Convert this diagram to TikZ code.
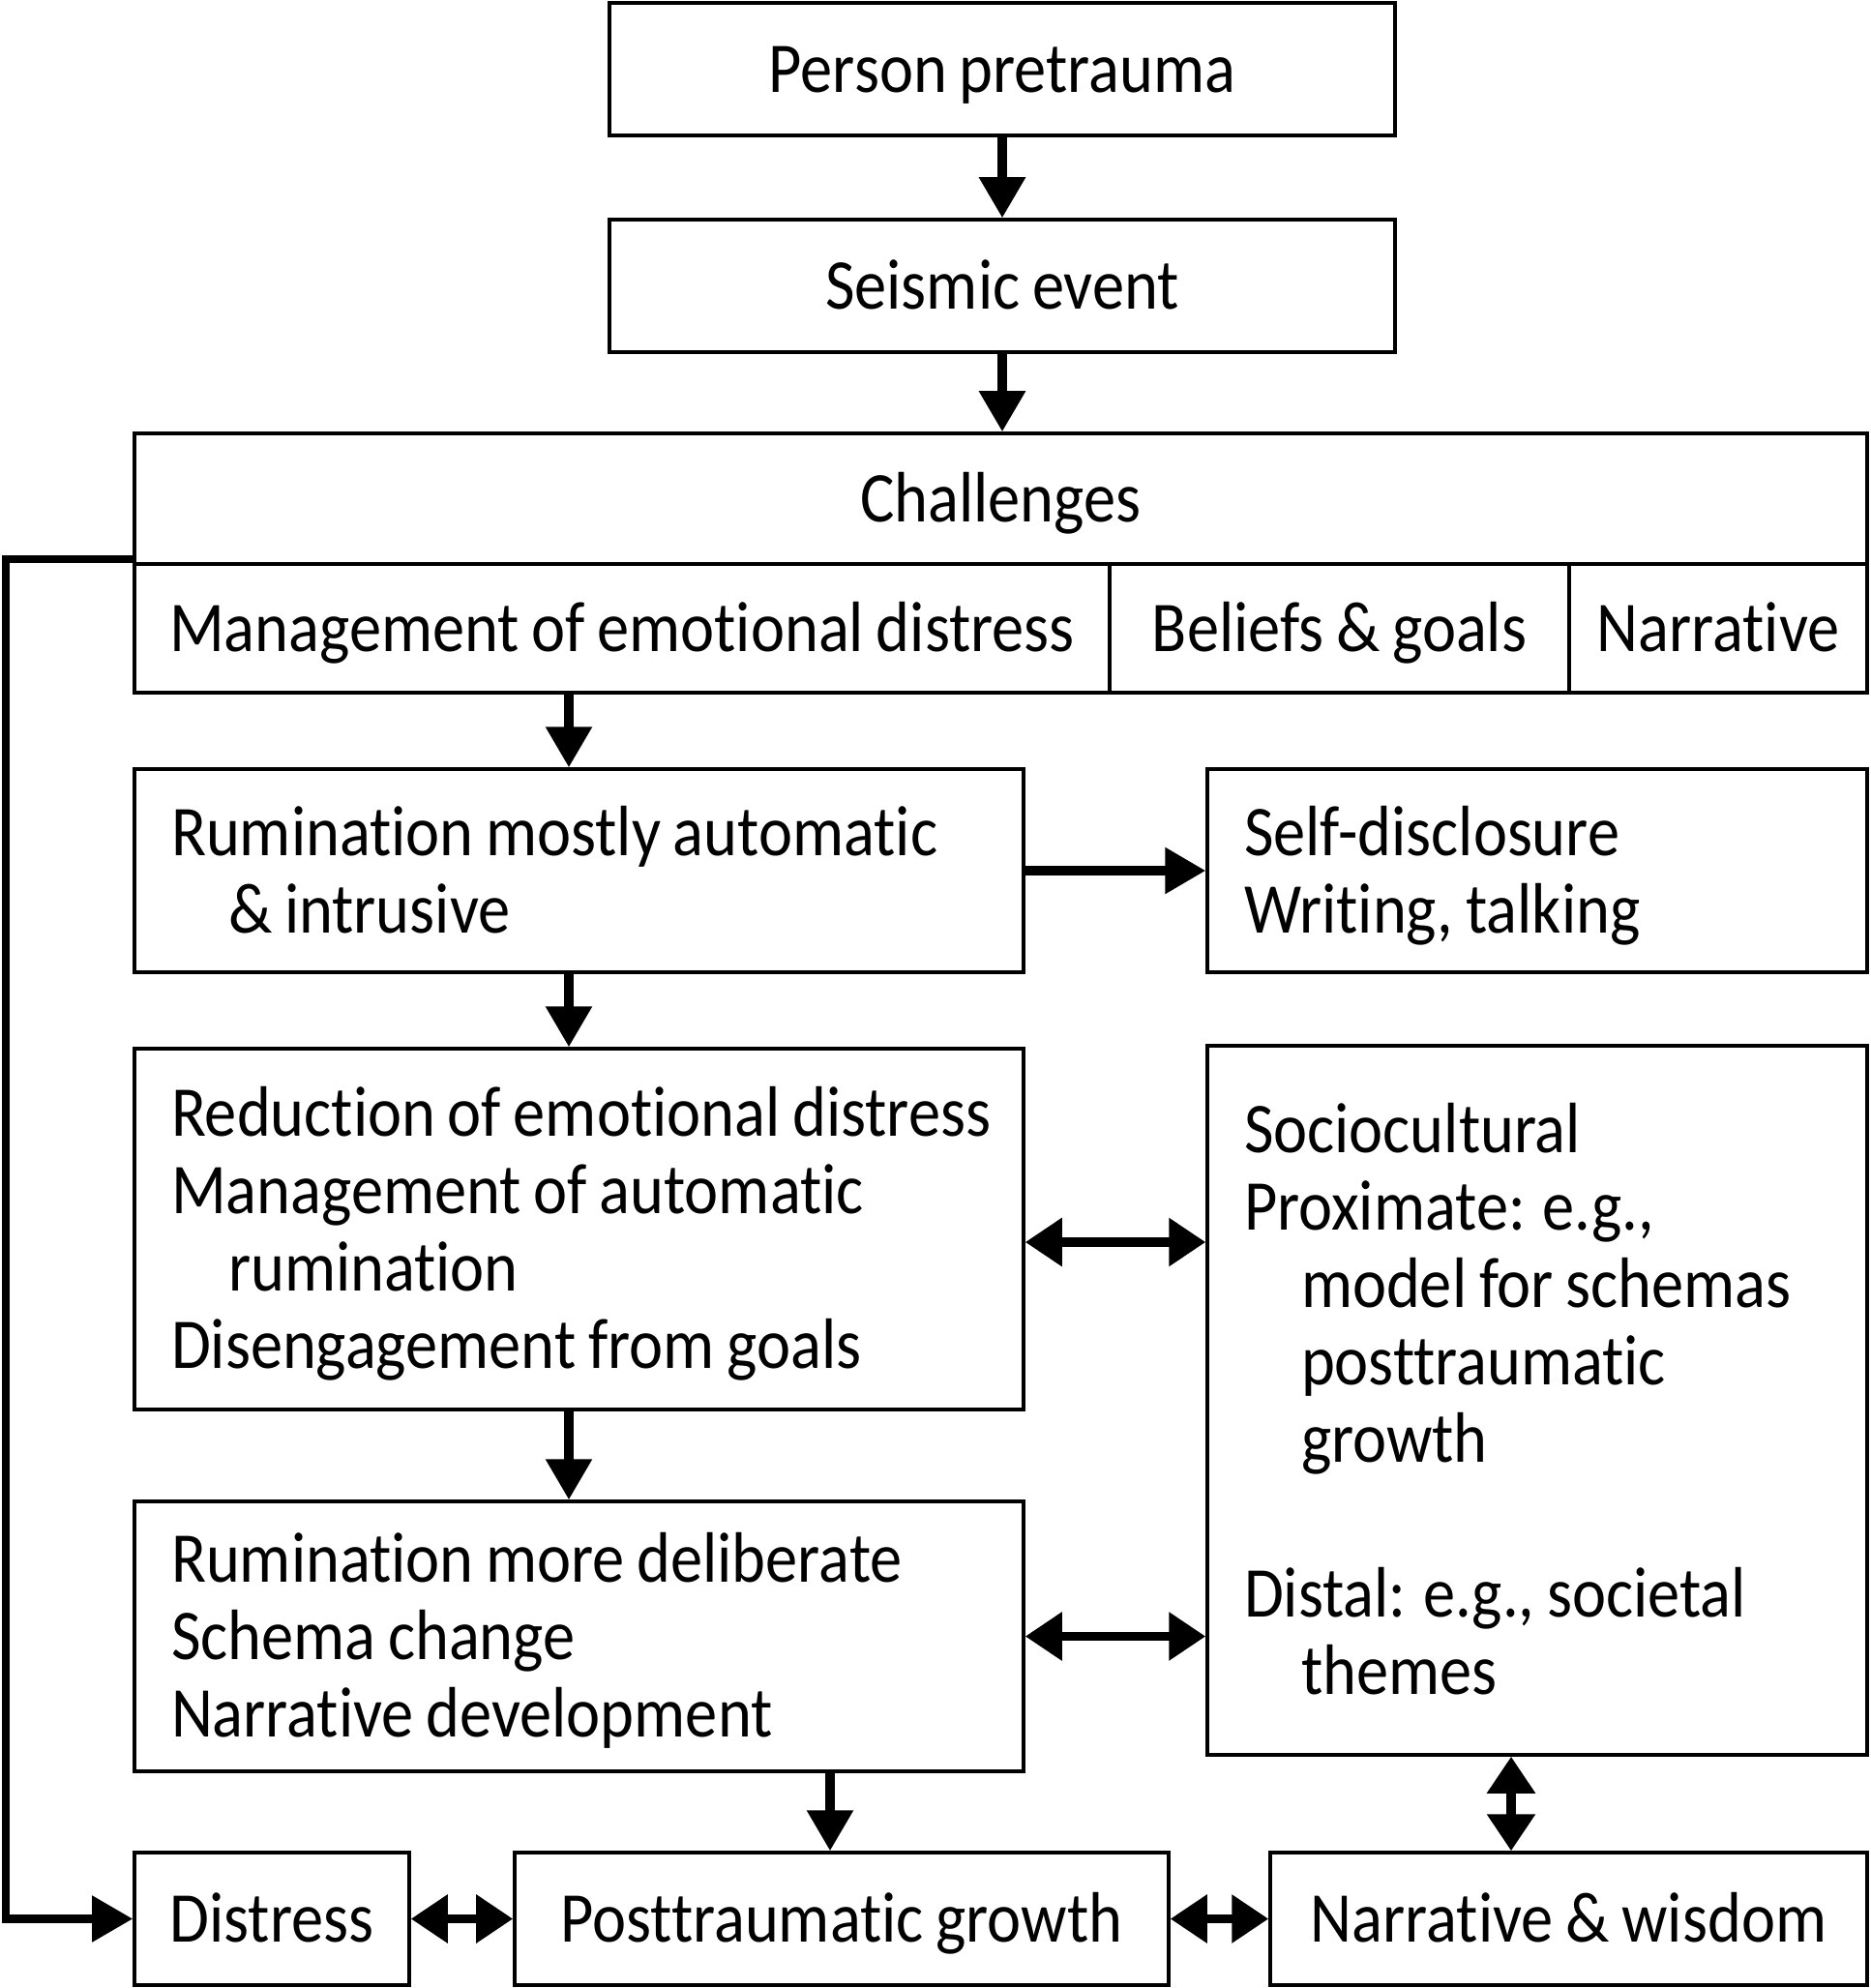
\documentclass[tikz,border=0pt]{standalone}
\usepackage{fontspec}
\setmainfont{Carlito}[FakeStretch=0.9, WordSpace=0.85, Ligatures=NoCommon]
\usepackage{tikz}
\usetikzlibrary{arrows.meta,positioning,calc}
\newcommand{\figfont}{\fontsize{21pt}{22.76pt}\selectfont}
\newcommand{\ind}{\hspace*{0.59cm}}
% left-aligned block of lines, fixed width
\newcommand{\lblock}[2]{\raisebox{0pt}[\dimexpr\height+0.16cm\relax][\depth]{\makebox[#1][l]{\begin{tabular}{@{}l@{}}#2\end{tabular}}}}

\tikzset{
    box/.style={draw, line width=1pt, inner sep=0pt, font=\figfont},
    cell/.style={box, text height=13.5pt, text depth=0pt},
    lbox/.style={box, inner xsep=0.38cm},
    flow/.style={-{Triangle[length=0.42cm, width=0.46cm]}, line width=2.6pt},
    both/.style={{Triangle[length=0.38cm, width=0.48cm]}-{Triangle[length=0.38cm, width=0.48cm]}, line width=2.6pt},
}

\begin{document}
\begin{tikzpicture}
    \useasboundingbox (0,0) rectangle (19.33,-20.55);

    % Top chain
    \node[cell, minimum width=8.12cm, minimum height=1.37cm] (pre) at (10.36,-0.715) {Person pretrauma};
    \node[cell, minimum width=8.12cm, minimum height=1.37cm] (seis) at (10.36,-2.955) {Seismic event};

    % Challenges block
    \node[cell, minimum width=17.91cm, minimum height=1.35cm] (chal) at (10.345,-5.155) {Challenges};
    \node[cell, minimum width=10.08cm, minimum height=1.33cm] (mgmt) at (6.43,-6.495) {Management of emotional distress};
    \node[cell, minimum width=4.75cm, minimum height=1.33cm] (beliefs) at (13.845,-6.495) {Beliefs \& goals};
    \node[cell, minimum width=3.08cm, minimum height=1.33cm] (narr) at (17.76,-6.495) {Narrative};

    % Left column
    \node[lbox, minimum height=2.10cm] (rum1) at (5.985,-9.00)
        {\lblock{8.43cm}{Rumination mostly automatic\\\ind\& intrusive}};
    \node[lbox, minimum height=3.73cm] (red) at (5.985,-12.705)
        {\lblock{8.43cm}{Reduction of emotional distress\\Management of automatic\\\ind rumination\\Disengagement from goals}};
    \node[lbox, minimum height=2.79cm] (rum2) at (5.985,-16.915)
        {\lblock{8.43cm}{Rumination more deliberate\\Schema change\\Narrative development}};

    % Right column
    \node[lbox, minimum height=2.10cm] (self) at (15.89,-9.00)
        {\lblock{6.06cm}{Self-disclosure\\Writing, talking}};
    \node[lbox, minimum height=7.33cm] (soc) at (15.89,-14.475)
        {\lblock{6.06cm}{Sociocultural\\Proximate: e.g.,\\\ind model for schemas\\\ind posttraumatic\\\ind growth\\[0.8cm]Distal: e.g., societal\\\ind themes}};

    % Outcomes
    \node[cell, minimum width=2.84cm, minimum height=1.37cm] (dis) at (2.81,-19.835) {Distress};
    \node[cell, minimum width=6.76cm, minimum height=1.37cm] (ptg) at (8.70,-19.835) {Posttraumatic growth};
    \node[cell, minimum width=6.17cm, minimum height=1.37cm] (nw) at (16.215,-19.835) {Narrative \& wisdom};

    % Connector columns and rows
    \coordinate (lcol) at (5.88,0);
    \coordinate (pcol) at (8.58,0);
    \coordinate (scol) at (15.62,0);
    \coordinate (rrow) at (0,-12.84);
    \coordinate (fb) at (0.06,-5.78);

    % Arrows
    \draw[flow] (pre) -- (seis);
    \draw[flow] (seis) -- (seis.south |- chal.north);
    \draw[flow] (lcol |- mgmt.south) -- (lcol |- rum1.north);
    \draw[flow] (rum1) -- (self);
    \draw[flow] (lcol |- rum1.south) -- (lcol |- red.north);
    \draw[flow] (lcol |- red.south) -- (lcol |- rum2.north);
    \draw[flow] (pcol |- rum2.south) -- (pcol |- ptg.north);
    \draw[both] (red.east |- rrow) -- (soc.west |- rrow);
    \draw[both] (rum2.east) -- (rum2.east -| soc.west);
    \draw[both] (scol |- soc.south) -- (scol |- nw.north);
    \draw[both] (dis) -- (ptg);
    \draw[both] (ptg) -- (nw);

    % Feedback from challenges to distress
    \draw[flow, line width=2.4pt] (fb -| chal.west) -- (fb) |- (dis.west);
\end{tikzpicture}
\end{document}
